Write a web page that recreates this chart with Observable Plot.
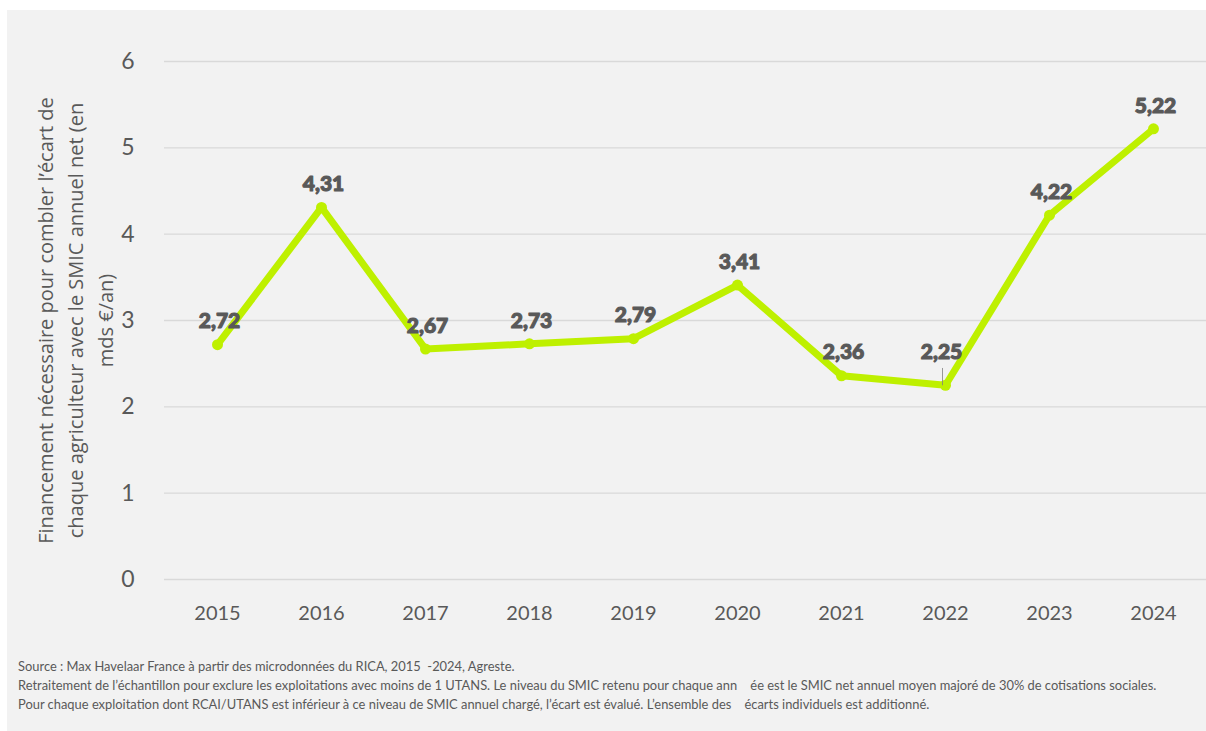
<!DOCTYPE html>
<html>
<head>
<meta charset="utf-8">
<script src="https://cdn.jsdelivr.net/npm/d3@7"></script>
<script src="https://cdn.jsdelivr.net/npm/@observablehq/plot@0.6"></script>
<style>
  html, body { margin: 0; padding: 0; background: #ffffff; }
  #panel { position: absolute; left: 7px; top: 10px; width: 1199px; height: 721px; background: #f2f2f2; overflow: hidden; }
  #chart svg { display: block; }
  #foot { position: absolute; left: 11px; top: 647px; font-family: "Lato", sans-serif; font-size: 12.9px; line-height: 19px; color: #595959; white-space: pre; }
</style>
</head>
<body>
<div id="panel">
  <div id="chart"></div>
  <div id="foot"></div>
</div>
<script>
const years = [2015, 2016, 2017, 2018, 2019, 2020, 2021, 2022, 2023, 2024];
const values = [2.72, 4.31, 2.67, 2.73, 2.79, 3.41, 2.36, 2.25, 4.22, 5.22];
const labels = ["2,72", "4,31", "2,67", "2,73", "2,79", "3,41", "2,36", "2,25", "4,22", "5,22"];
const yTicks = [0, 1, 2, 3, 4, 5, 6];
const yTitle = "Financement nécessaire pour combler l’écart de\nchaque agriculteur avec le SMIC annuel net (en\nmds €/an)";
const footLines = [
  "Source : Max Havelaar France à partir des microdonnées du RICA, 2015  -2024, Agreste.",
  "Retraitement de l’échantillon pour exclure les exploitations avec moins de 1 UTANS. Le niveau du SMIC retenu pour chaque ann    ée est le SMIC net annuel moyen majoré de 30% de cotisations sociales.",
  "Pour chaque exploitation dont RCAI/UTANS est inférieur à ce niveau de SMIC annuel chargé, l’écart est évalué. L’ensemble des    écarts individuels est additionné."
];

const data = years.map((y, i) => ({year: String(y), value: values[i], label: labels[i]}));
const special = "2022";

const labelStyle = {fontSize: 21, fontWeight: 900, fontFamily: "Lato", fill: "#595959", stroke: "#595959", strokeWidth: 1.1};

const chart = Plot.plot({
  width: 1199,
  height: 624,
  marginLeft: 157,
  marginRight: 0,
  marginTop: 51,
  marginBottom: 55,
  style: {background: "transparent", color: "#595959"},
  x: {type: "point", domain: years.map(String), padding: 0.5, label: null},
  y: {domain: [0, 6], label: null},
  marks: [
    Plot.gridY(yTicks, {stroke: "#d9d9d9", strokeOpacity: 1, strokeWidth: 1.3}),
    Plot.axisY(yTicks, {tickSize: 0, tickPadding: 30, fontSize: 23, fontFamily: "Lato", fill: "#595959", label: null, tickFormat: d => String(d)}),
    Plot.axisX({tickSize: 0, tickPadding: 26, fontSize: 20, fontFamily: "Lato", fill: "#595959", label: null}),
    Plot.text([yTitle], {frameAnchor: "left", rotate: -90, dx: -91, fontSize: 20, fontFamily: "Open Sans", fill: "#595959", lineHeight: 1.5, textAnchor: "middle"}),
    Plot.line(data, {x: "year", y: "value", stroke: "#bef000", strokeWidth: 7, strokeLinejoin: "round"}),
    Plot.dot(data, {x: "year", y: "value", r: 5.5, fill: "#bef000"}),
    Plot.link(data.filter(d => d.year === special), {x1: "year", x2: "year", y1: "value", y2: d => d.value + 0.2, stroke: "#7f7f7f", strokeWidth: 0.8, dx: -3}),
    Plot.text(data.filter(d => d.year !== special), {x: "year", y: "value", text: "label", dx: 2, dy: -23, ...labelStyle}),
    Plot.text(data.filter(d => d.year === special), {x: "year", y: "value", text: "label", dx: -4, dy: -33, ...labelStyle})
  ]
});
document.getElementById("chart").appendChild(chart);
document.getElementById("foot").textContent = footLines.join("\n");
</script>
</body>
</html>
